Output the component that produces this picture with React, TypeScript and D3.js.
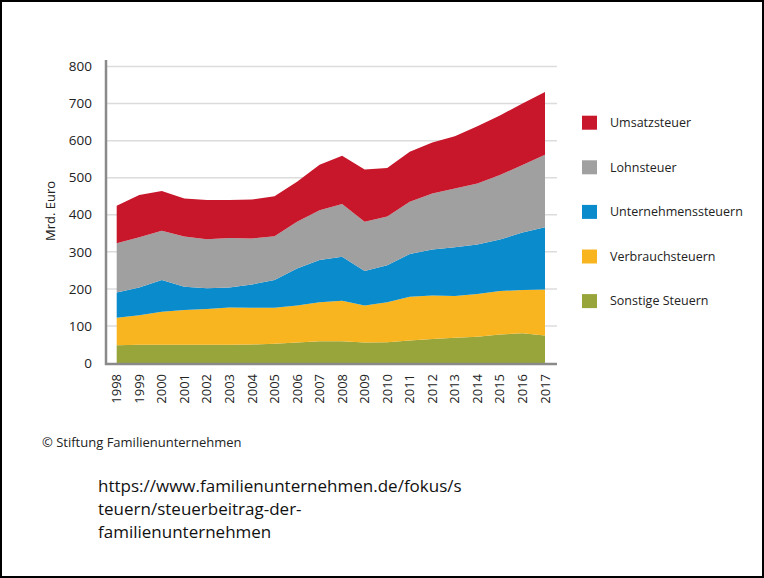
import React, { useRef, useEffect } from 'react';
import * as d3 from 'd3';

// Jahre und Steuerarten (Mrd. Euro), von unten nach oben gestapelt
const years = ['1998', '1999', '2000', '2001', '2002', '2003', '2004', '2005', '2006', '2007',
  '2008', '2009', '2010', '2011', '2012', '2013', '2014', '2015', '2016', '2017'];

const sonstige = [48, 49, 49, 49, 49, 49, 50, 52, 55, 59, 59, 55, 56, 61, 65, 68, 71, 77, 80, 74];
const verbrauch = [74, 80, 89, 94, 97, 101, 99, 97, 100, 105, 109, 100, 108, 118, 117, 113, 115, 117, 117, 124];
const unternehmen = [68, 75, 86, 63, 56, 54, 63, 75, 100, 114, 119, 93, 100, 115, 124, 131, 134, 139, 155, 168];
const lohn = [133, 135, 133, 135, 132, 133, 124, 118, 126, 134, 142, 133, 131, 141, 151, 159, 164, 174, 182, 196];
const umsatz = [101, 114, 107, 103, 106, 103, 105, 108, 108, 123, 130, 141, 131, 135, 138, 141, 155, 161, 166, 169];

const seriesNames = ['Sonstige Steuern', 'Verbrauchsteuern', 'Unternehmenssteuern', 'Lohnsteuer', 'Umsatzsteuer'];
const seriesValues = [sonstige, verbrauch, unternehmen, lohn, umsatz];
const colors = ['#98a53a', '#f9b520', '#0a8bcc', '#a0a0a0', '#c8162b'];

const yTicks = [0, 100, 200, 300, 400, 500, 600, 700, 800];

const App = () => {
  const svgRef = useRef<SVGSVGElement>(null);

  useEffect(() => {
    const svg = d3.select(svgRef.current);
    svg.selectAll('*').remove();

    const font = "'Open Sans', sans-serif";

    // Rahmen
    svg.append('rect')
      .attr('x', 1).attr('y', 1)
      .attr('width', 762).attr('height', 576)
      .attr('fill', '#fff')
      .attr('stroke', '#000')
      .attr('stroke-width', 2);

    const rows = years.map((y, i) => {
      const r: any = { year: y };
      seriesNames.forEach((n, k) => { r[n] = seriesValues[k][i]; });
      return r;
    });

    const stacked = d3.stack().keys(seriesNames)(rows);

    const x = d3.scalePoint().domain(years).range([116.7, 545]);
    const y = d3.scaleLinear().domain([0, 800]).range([363, 66.5]);

    // Gitterlinien
    svg.append('g')
      .selectAll('line')
      .data(yTicks.filter(d => d > 0))
      .enter()
      .append('line')
      .attr('x1', 106).attr('x2', 557)
      .attr('y1', d => y(d)).attr('y2', d => y(d))
      .attr('stroke', '#dcdcdc')
      .attr('stroke-width', 1.5);

    const area = d3.area<any>()
      .x((d: any) => x(d.data.year) as number)
      .y0((d: any) => y(d[0]))
      .y1((d: any) => y(d[1]));

    svg.append('g')
      .selectAll('path')
      .data(stacked)
      .enter()
      .append('path')
      .attr('fill', (d, i) => colors[i])
      .attr('d', area as any);

    // Achsen
    svg.append('line')
      .attr('x1', 106).attr('x2', 106)
      .attr('y1', 60).attr('y2', 365)
      .attr('stroke', '#8a8a8a').attr('stroke-width', 2.5);
    svg.append('line')
      .attr('x1', 105).attr('x2', 557)
      .attr('y1', 364).attr('y2', 364)
      .attr('stroke', '#8a8a8a').attr('stroke-width', 2.5);

    // Y-Beschriftung
    svg.append('g')
      .selectAll('text')
      .data(yTicks)
      .enter()
      .append('text')
      .attr('x', 92)
      .attr('y', d => y(d))
      .attr('dy', '0.35em')
      .attr('text-anchor', 'end')
      .style('font-family', font)
      .style('font-size', '13.5px')
      .attr('fill', '#222')
      .text(d => d);

    svg.append('text')
      .attr('transform', 'translate(55,211) rotate(-90)')
      .attr('text-anchor', 'middle')
      .style('font-family', font)
      .style('font-size', '13px')
      .attr('fill', '#222')
      .text('Mrd. Euro');

    // X-Beschriftung
    svg.append('g')
      .selectAll('text')
      .data(years)
      .enter()
      .append('text')
      .attr('transform', d => `translate(${x(d)},374) rotate(-90)`)
      .attr('dy', '0.35em')
      .attr('text-anchor', 'end')
      .style('font-family', font)
      .style('font-size', '13px')
      .attr('fill', '#222')
      .text(d => d);

    // Legende (Umsatzsteuer oben)
    const legend = svg.append('g')
      .selectAll('g')
      .data(seriesNames.map((n, i) => ({ n, c: colors[i] })).reverse())
      .enter()
      .append('g')
      .attr('transform', (d, i) => `translate(582,${122.7 + i * 44.6})`);
    legend.append('rect')
      .attr('x', 0).attr('y', -7)
      .attr('width', 15).attr('height', 14)
      .attr('fill', d => d.c);
    legend.append('text')
      .attr('x', 28).attr('y', 0)
      .attr('dy', '0.35em')
      .style('font-family', font)
      .style('font-size', '12.5px')
      .attr('fill', '#222')
      .text(d => d.n);

    // Quelle
    svg.append('text')
      .attr('x', 42).attr('y', 442)
      .attr('dy', '0.35em')
      .style('font-family', font)
      .style('font-size', '13px')
      .attr('fill', '#222')
      .text('© Stiftung Familienunternehmen');

    const urlLines = ['https://www.familienunternehmen.de/fokus/s', 'teuern/steuerbeitrag-der-', 'familienunternehmen'];
    svg.append('g')
      .selectAll('text')
      .data(urlLines)
      .enter()
      .append('text')
      .attr('x', 98)
      .attr('y', (d, i) => 486 + i * 22.8)
      .attr('dy', '0.35em')
      .style('font-family', font)
      .style('font-size', '17px')
      .attr('fill', '#111')
      .text(d => d);
  }, []);

  return (
    <svg ref={svgRef} width={764} height={578}
      style={{ position: 'absolute', left: 0, top: 0, background: '#fff' }} />
  );
};

export default App;
